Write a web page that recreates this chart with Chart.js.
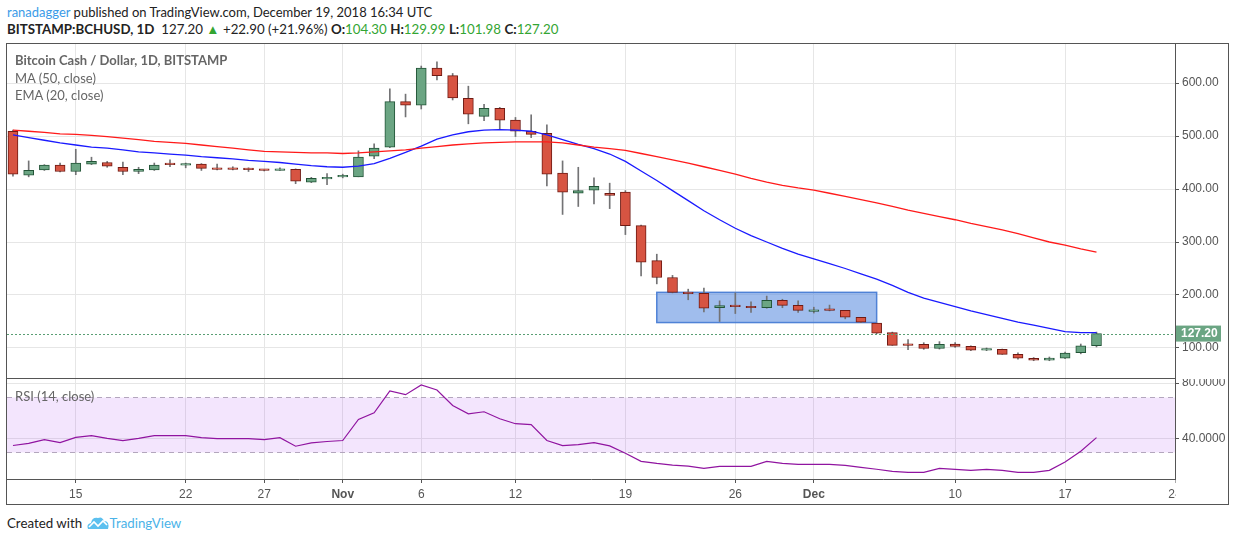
<!DOCTYPE html>
<html>
<head>
<meta charset="utf-8">
<script src="https://cdn.jsdelivr.net/npm/chart.js@4.4.0/dist/chart.umd.min.js"></script>
<style>
  body { margin: 0; background: #fff; width: 1234px; height: 541px; overflow: hidden; position: relative; font-family: Lato, "Open Sans", sans-serif; color: #222; }
  .abs { position: absolute; white-space: nowrap; }
  #head1 { left: 7px; top: 4px; font-size: 13px; }
  #head2 { left: 7px; top: 21px; font-size: 13.3px; }
  .g { color: #33a532; }
  #frame { position: absolute; left: 6px; top: 43px; width: 1221px; height: 460px; border: 1px solid #555; }
  #price { position: absolute; left: 7px; top: 44px; }
  #rsi { position: absolute; left: 7px; top: 379px; }
  .leg { color: #666; font-size: 13px; }
  #foot { left: 7px; top: 515px; font-size: 13.3px; }
</style>
</head>
<body>
<div id="head1" class="abs"><span style="color:#3a9be8">ranadagger</span> published on TradingView.com, December 19, 2018 16:34 UTC</div>
<div id="head2" class="abs"><b>BITSTAMP:BCHUSD, 1D</b>&nbsp; 127.20 <span class="g">&#9650;</span> +22.90 (+21.96%) <b>O:</b><span class="g">104.30</span> <b>H:</b><span class="g">129.99</span> <b>L:</b><span class="g">101.98</span> <b>C:</b><span class="g">127.20</span></div>
<div id="frame"></div>
<canvas id="price" width="1221" height="335"></canvas>
<canvas id="rsi" width="1221" height="125"></canvas>
<div class="abs leg" style="left:15px;top:52px;font-weight:bold">Bitcoin Cash / Dollar, 1D, BITSTAMP</div>
<div class="abs leg" style="left:15px;top:70px">MA (50, close)</div>
<div class="abs leg" style="left:15px;top:87px">EMA (20, close)</div>
<div class="abs leg" style="left:15px;top:388px">RSI (14, close)</div>
<div id="foot" class="abs">Created with
  <svg width="24" height="14" viewBox="0 0 24 14" style="vertical-align:-2px"><path d="M2 13 Q0 8 5 7 Q6 1 12 2 Q16 0 18 5 Q24 5 22 13 Z" fill="#5cc0ef"/><path d="M3 11 L8 6 L12 10 L17 5 L21 9" stroke="#fff" stroke-width="1.6" fill="none"/></svg><span style="color:#4bb3e8">TradingView</span></div>

<script>
// daily candles, Oct 11 - Dec 19 2018
const open  = [509,426,436,445,433,447,450,441,433,436,447,445,447,439,439,437.5,436,435,437,413,
               419,423,423,462,479,565,558,628,614,571,537,552,530,509,505,430,392,398,392,394,
               331,265,233,205,203,176,180.5,178.5,176,190,180.5,169,173,171,158,147,129,106,107,99,
               107.5,103,96,97.5,88,80.6,77,81,91,104.3];
const high  = [511,453,446,449,475,460,452,451,441,449,455,449,448,447,442,440,437,440,438,422,
               429,428,472,485,589,579,632,640,618,594,560,554,535,540,521,453,441,421,411,397,
               332,277,237,211,213,189,204,187,198,192,189,177,181,171,158,147,130,116,110,112,
               110,104,100,98,91,82,83,92.5,107.5,129.99];
const low   = [424,423,435,432,427,446,441,427,429,435,442,440,435,436,436,433,434,435,410,412,
               408,421,423,457,478,536,551,606,568,523,529,512,499,497,406,352,367,372,363,314,
               236,221,204,191,168,150,165,167,175,176,167,166,170,155,148,127,105,97,97.5,98,
               101,95,95,88,79,76,76,80,89,101.98];
const close = [428,435,445,433,449,452,443,433,437,445,446,447,439,437,437,436.5,435,437,415,420,
               422,424.5,460,477,565,558,628,614,572,541,552,530,509,503,428,394,397,405,388,331,
               262,233,205,202.5,175,180,178,176,190,180.5,171,171,171,158,148.5,128,105,105,99,107,
               103,96,98,88,80.6,77,81,90.5,104.3,127.2];
const ma50  = [511,509,507,504,503,501,499,496,493,490,488,486,483,480,477,474,471,470,469,468,
               468,467,468,470,472,474,477,480,483,485,487,488,489,489,489,487,483,479,476,473,
               467,461,455,449,442,435,428,420,413,407,402,398,392,386,380,374,367,360,354,348,
               342,335,329,323,316,308,300,294,287,281];
const ema20 = [502,497,492,487,483,479,477,474,470,468,466,464,461,459,457,454,452,450,447,444,
               442,441,443,448,458,469,481,494,502,508,511,512,511,509,502,493,484,476,466,452,
               434,416,397,378,359,342,326,312,300,288,277,268,259,250,240,230,218,205,194,186,
               178,170,163,156,149,143,137,131,129,129];
const rsi14 = [35.0,36.6,39.3,37.1,40.9,42.1,40.2,38.6,40.2,42.1,42.1,42.1,40.7,40.0,40.0,40.0,39.3,40.7,34.5,36.9,
               37.9,38.6,53.8,58.6,74.3,71.6,78.6,75.0,63.8,57.8,59.3,54.3,50.7,50.0,38.6,35.0,35.7,37.1,34.7,29.5,
               23.6,22.1,20.9,20.2,18.6,20.0,20.0,20.0,23.6,22.1,21.4,21.4,21.4,20.7,19.3,17.9,16.4,15.7,15.7,18.6,
               17.9,17.1,17.9,17.1,15.7,15.7,17.1,23.1,30.9,40.7];

const tickDays   = [4, 11, 16, 21, 26, 32, 39, 46, 51, 60, 67, 74];
const tickLabels = ["15", "22", "27", "Nov", "6", "12", "19", "26", "Dec", "10", "17", "24"];
const priceTicks = [100, 200, 300, 400, 500, 600];
const rsiTicks   = [40, 80];
const lastPrice  = 127.2;
// blue rectangle drawn on the chart (day from/to, price from/to)
const boxDays   = [41, 55];
const boxPrices = [148, 205];

const idx = close.map((_, i) => i);
const up = i => close[i] >= open[i];
const axisFont = { family: "Liberation Sans", size: 12 };
const gridColor = '#e6e6e6';

function noPad(s) { s.paddingTop = 0; s.paddingBottom = 0; s.paddingLeft = 0; s.paddingRight = 0; }

const boxPlugin = {
  id: 'box',
  beforeDatasetsDraw(chart) {
    const { ctx, scales: { x, y } } = chart;
    const x0 = x.getPixelForValue(boxDays[0]), x1 = x.getPixelForValue(boxDays[1]);
    const y0 = y.getPixelForValue(boxPrices[1]), y1 = y.getPixelForValue(boxPrices[0]);
    ctx.save();
    ctx.fillStyle = 'rgba(82,134,222,0.55)';
    ctx.fillRect(x0, y0, x1 - x0, y1 - y0);
    ctx.strokeStyle = '#4f82d6';
    ctx.lineWidth = 1.5;
    ctx.strokeRect(x0, y0, x1 - x0, y1 - y0);
    ctx.restore();
  },
  afterDatasetsDraw(chart) {
    const { ctx, chartArea, scales: { y } } = chart;
    const py = Math.round(y.getPixelForValue(lastPrice)) + 0.5;
    ctx.save();
    ctx.strokeStyle = '#5a9e74';
    ctx.lineWidth = 1;
    ctx.setLineDash([2, 2]);
    ctx.beginPath();
    ctx.moveTo(chartArea.left, py);
    ctx.lineTo(chartArea.right, py);
    ctx.stroke();
    ctx.restore();
  },
  afterDraw(chart) {
    const { ctx, chartArea, scales: { y } } = chart;
    const py = y.getPixelForValue(lastPrice);
    ctx.save();
    // pane separator
    ctx.strokeStyle = '#555';
    ctx.lineWidth = 1;
    ctx.beginPath();
    ctx.moveTo(chartArea.left, chartArea.bottom - 0.5);
    ctx.lineTo(chartArea.right, chartArea.bottom - 0.5);
    ctx.stroke();
    ctx.fillStyle = '#6ba583';
    ctx.fillRect(chartArea.right + 1, py - 8, 45, 16);
    ctx.fillStyle = '#fff';
    ctx.font = 'bold 12px "Liberation Sans"';
    ctx.textBaseline = 'middle';
    ctx.fillText(lastPrice.toFixed(2), chartArea.right + 6, py + 0.5);
    ctx.restore();
  }
};

new Chart(document.getElementById('price'), {
  type: 'bar',
  data: {
    datasets: [{
      type: 'line',
      data: idx.map(i => ({ x: i, y: ma50[i] })),
      borderColor: '#ff1a1a',
      borderWidth: 1.3,
      pointRadius: 0,
      order: 0
    }, {
      type: 'line',
      data: idx.map(i => ({ x: i, y: ema20[i] })),
      borderColor: '#1a1aff',
      borderWidth: 1.3,
      pointRadius: 0,
      order: 0
    }, {
      data: idx.map(i => ({ x: i, y: [open[i], close[i]] })),
      backgroundColor: c => up(c.dataIndex) ? '#6ba583' : '#d75442',
      borderColor: c => up(c.dataIndex) ? '#225437' : '#6f1a13',
      borderWidth: 1,
      borderSkipped: false,
      barThickness: 10,
      minBarLength: 1.5,
      grouped: false,
      order: 1
    }, {
      data: idx.map(i => ({ x: i, y: [low[i], high[i]] })),
      backgroundColor: '#737375',
      barThickness: 1,
      grouped: false,
      order: 2
    }]
  },
  options: {
    responsive: false,
    animation: false,
    layout: { padding: 0 },
    plugins: { legend: { display: false }, tooltip: { enabled: false } },
    scales: {
      x: {
        type: 'linear', min: -0.38, max: 74, offset: false,
        afterBuildTicks: s => { s.ticks = tickDays.map(v => ({ value: v })); },
        afterFit: noPad,
        grid: { color: gridColor, drawTicks: false, offset: false },
        border: { color: '#555' },
        ticks: { display: false }
      },
      y: {
        position: 'right', min: 41.5, max: 673.6,
        afterBuildTicks: s => { s.ticks = priceTicks.map(v => ({ value: v })); },
        afterFit: s => { noPad(s); s.width = 53; },
        grid: { color: gridColor, tickLength: 4, tickColor: '#555' },
        border: { color: '#555' },
        ticks: { color: '#555', font: axisFont, padding: 3, callback: v => v.toFixed(2) }
      }
    }
  },
  plugins: [boxPlugin]
});

const rsiPlugin = {
  id: 'rsiband',
  beforeDatasetsDraw(chart) {
    const { ctx, chartArea, scales: { y } } = chart;
    const y70 = Math.round(y.getPixelForValue(70)) + 0.5, y30 = Math.round(y.getPixelForValue(30)) + 0.5;
    ctx.save();
    ctx.fillStyle = 'rgba(156,39,236,0.12)';
    ctx.fillRect(chartArea.left, y70, chartArea.right - chartArea.left, y30 - y70);
    ctx.strokeStyle = '#b3a6bd';
    ctx.setLineDash([5, 4]);
    ctx.lineWidth = 1;
    ctx.beginPath();
    ctx.moveTo(chartArea.left, y70); ctx.lineTo(chartArea.right, y70);
    ctx.moveTo(chartArea.left, y30); ctx.lineTo(chartArea.right, y30);
    ctx.stroke();
    ctx.restore();
  },
  afterDraw(chart) {
    // hide the part of the last date label that runs under the price axis
    const { ctx, chartArea } = chart;
    ctx.save();
    ctx.fillStyle = '#fff';
    ctx.fillRect(chartArea.right + 0.5, chartArea.bottom + 1, chart.width, chart.height);
    ctx.restore();
  }
};

new Chart(document.getElementById('rsi'), {
  type: 'line',
  data: {
    datasets: [{
      data: idx.map(i => ({ x: i, y: rsi14[i] })),
      borderColor: '#9014a0',
      borderWidth: 1.2,
      pointRadius: 0
    }]
  },
  options: {
    responsive: false,
    animation: false,
    layout: { padding: 0 },
    plugins: { legend: { display: false }, tooltip: { enabled: false } },
    scales: {
      x: {
        type: 'linear', min: -0.38, max: 74,
        afterBuildTicks: s => { s.ticks = tickDays.map(v => ({ value: v })); },
        afterFit: s => { noPad(s); s.height = 25; },
        grid: { color: gridColor, tickLength: 4, tickColor: '#555' },
        border: { color: '#555' },
        ticks: {
          autoSkip: false, maxRotation: 0, color: '#555', padding: 4,
          font: c => ({ family: "Liberation Sans", size: 12, weight: (c.tick && /^[A-Z]/.test(c.tick.label)) ? 'bold' : 'normal' }),
          callback: v => { const k = tickDays.indexOf(v); return k >= 0 ? tickLabels[k] : ''; }
        }
      },
      y: {
        position: 'right', min: 10.9, max: 82.9,
        afterBuildTicks: s => { s.ticks = rsiTicks.map(v => ({ value: v })); },
        afterFit: s => { noPad(s); s.width = 53; },
        grid: { color: gridColor, tickLength: 4, tickColor: '#555' },
        border: { color: '#555' },
        ticks: { color: '#555', font: axisFont, padding: 3, callback: v => v.toFixed(4) }
      }
    }
  },
  plugins: [rsiPlugin]
});
</script>
</body>
</html>
